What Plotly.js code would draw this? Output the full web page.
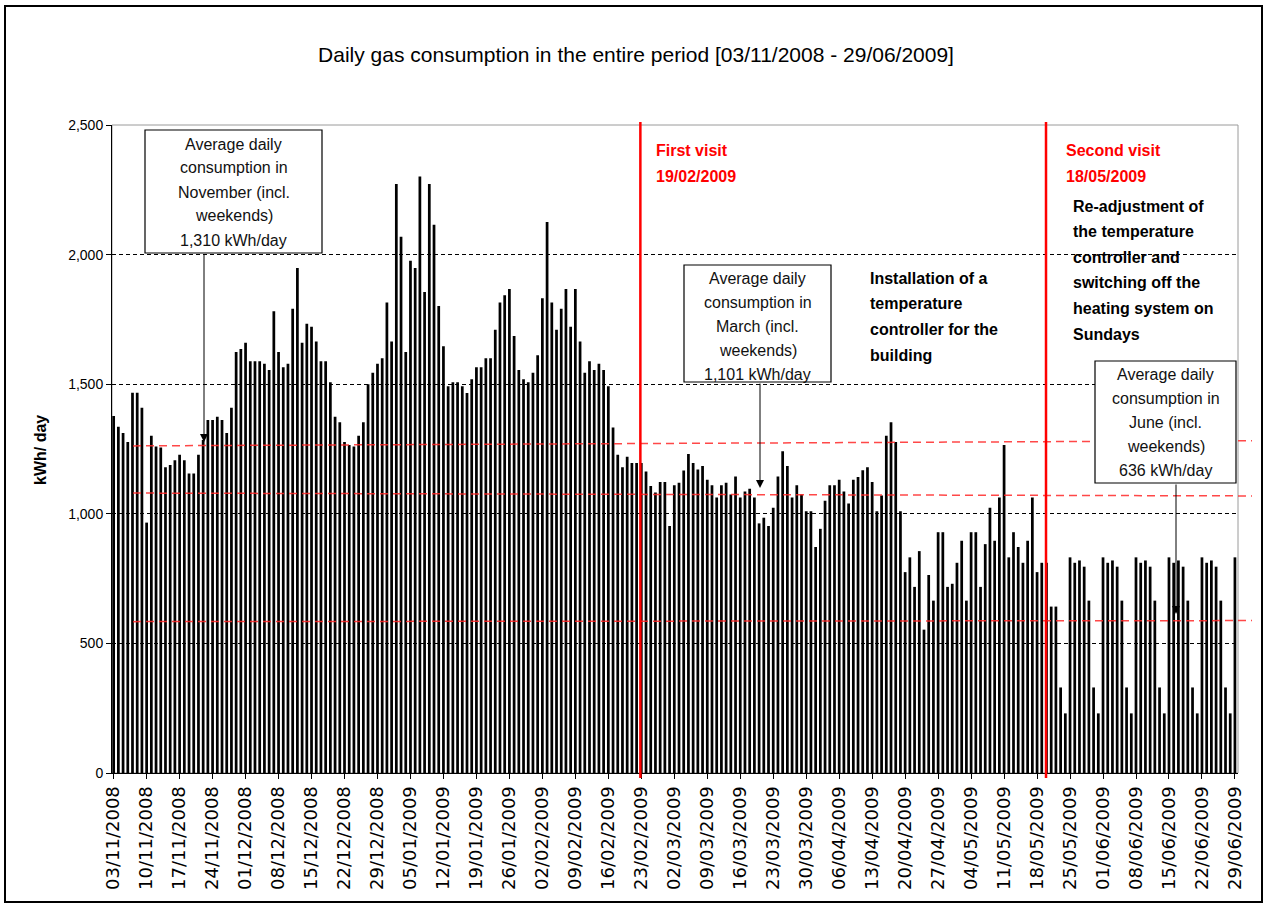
<!DOCTYPE html>
<html><head><meta charset="utf-8">
<script src="https://cdn.plot.ly/plotly-3.0.1.min.js"></script>
<style>html,body{margin:0;padding:0;background:#fff;}#chart{width:1267px;height:905px;}</style>
</head><body><div id="chart"></div>
<script>
// ---- DATA ----
const startDate = '03/11/2008';
const dayCount = 239;
const gasKWh = [
1377,1336,1312,1277,1467,1467,1409,966,1301,1260,
1256,1180,1188,1207,1228,1207,1155,1155,1228,1285,
1362,1362,1374,1362,1312,1409,1624,1636,1660,1589,
1589,1589,1579,1555,1781,1624,1565,1579,1791,1948,
1660,1733,1722,1665,1589,1589,1508,1374,1353,1277,
1265,1260,1301,1353,1500,1544,1579,1600,1815,1665,
2272,2069,1624,1976,1948,2301,1856,2272,2115,1802,
1646,1492,1508,1508,1492,1466,1519,1565,1565,1600,
1600,1710,1815,1843,1867,1686,1555,1519,1508,1544,
1612,1832,2126,1815,1710,1791,1867,1722,1867,1665,
1544,1589,1555,1579,1555,1492,1333,1228,1180,1220,
1196,1196,1196,1163,1107,1082,1123,1123,953,1110,
1120,1167,1231,1196,1171,1184,1131,1110,1063,1110,
1120,1074,1144,1063,1086,1097,1063,963,985,953,
1023,1144,1241,1184,1063,1110,1074,1010,1010,872,
942,1050,1110,1110,1131,1086,1040,1131,1142,1168,
1180,1123,1010,1071,1301,1353,1277,1010,775,832,
718,856,553,764,665,929,929,718,730,811,
896,665,929,929,718,883,1023,896,1063,1265,
832,929,872,811,896,1063,775,811,811,642,
642,330,230,832,811,820,796,665,330,230,
832,811,820,796,665,330,230,
832,811,820,796,665,330,230,
832,811,820,796,665,330,230,
832,811,820,796,665,330,230,
832
];
const tickLabels = ['03/11/2008','10/11/2008','17/11/2008','24/11/2008','01/12/2008','08/12/2008','15/12/2008','22/12/2008','29/12/2008','05/01/2009','12/01/2009','19/01/2009','26/01/2009','02/02/2009','09/02/2009','16/02/2009','23/02/2009','02/03/2009','09/03/2009','16/03/2009','23/03/2009','30/03/2009','06/04/2009','13/04/2009','20/04/2009','27/04/2009','04/05/2009','11/05/2009','18/05/2009','25/05/2009','01/06/2009','08/06/2009','15/06/2009','22/06/2009','29/06/2009'];
const yTicks = [0,500,1000,1500,2000,2500];
const visitDays = [111.8, 197.9];            // red vertical markers (day index)
const avgLineLeft = [1262, 1080, 584];       // red dashed reference lines, value at left end
const avgLineRight = [1282, 1069, 588];      // value at right end
const titleText = 'Daily gas consumption in the entire period [03/11/2008 - 29/06/2009]';
const novBox = ['Average daily','consumption in','November (incl.','weekends)','1,310 kWh/day'];
const marBox = ['Average daily','consumption in','March (incl.','weekends)','1,101 kWh/day'];
const junBox = ['Average daily','consumption in','June (incl.','weekends)','636 kWh/day'];
const visit1 = ['First visit','19/02/2009'];
const visit2 = ['Second visit','18/05/2009'];
const note1 = ['Installation of a','temperature','controller for the','building'];
const note2 = ['Re-adjustment of','the temperature','controller and','switching off the','heating system on','Sundays'];

// ---- BUILD ----
const dayIdx = gasKWh.map((v,i)=>i);
const tickVals = tickLabels.map((t,i)=>i*7);

const L=112,R=1238,T=125,B=773;
const px = x => (x-L)/(R-L);
const py = y => (B-y)/(B-T);
const FONT = 'Liberation Sans, Arial, sans-serif';

const annotations = [];
function addLines(lines, x, y0, step, size, color, anchor, bold){
  lines.forEach((t,i)=>annotations.push({xref:'paper',yref:'paper',x:px(x),y:py(y0+i*step),
    text: bold ? '<b>'+t+'</b>' : t, showarrow:false, xanchor:anchor, yanchor:'middle',
    font:{family:FONT,size:size,color:color}}));
}
function addArrow(x, yHead, yTail){
  annotations.push({xref:'paper',yref:'paper',x:px(x),y:py(yHead),ax:0,ay:yTail-yHead,text:'',
    showarrow:true,arrowhead:2,arrowsize:1.6,arrowwidth:1,arrowcolor:'#000',standoff:0});
}
addLines(novBox, 233.5, 144, 24, 16, '#111', 'center', false);
addLines(marBox, 757.5, 278, 24, 16, '#111', 'center', false);
addLines(junBox, 1165.5, 374, 24, 16, '#111', 'center', false);
addLines(visit1, 654, 151, 25, 16, '#ff0000', 'left', true);
addLines(visit2, 1064, 151, 25, 16, '#ff0000', 'left', true);
addLines(note1, 868, 278, 25.8, 16, '#000', 'left', true);
addLines(note2, 1071, 206, 25.6, 16, '#000', 'left', true);
addArrow(204, 442, 253);
addArrow(760, 488, 382);
addArrow(1176, 614, 483);
annotations.push({xref:'paper',yref:'paper',x:px(40),y:py(450),text:'<b>kWh/ day</b>',textangle:-90,
  showarrow:false,xanchor:'center',yanchor:'middle',font:{family:FONT,size:16,color:'#000'}});

const shapes = [];
// plot area border (grey)
shapes.push({type:'rect',xref:'paper',yref:'paper',x0:0,x1:1,y0:0,y1:1,line:{color:'#9a9a9a',width:1},layer:'below'});
// outer frame
shapes.push({type:'rect',xref:'paper',yref:'paper',x0:px(5),x1:px(1262),y0:py(902),y1:py(6),line:{color:'#000',width:2}});
// red dashed average lines
avgLineLeft.forEach((v,i)=>shapes.push({type:'line',xref:'paper',yref:'y',x0:px(133),x1:px(1252),y0:v,y1:avgLineRight[i],
  line:{color:'rgba(255,40,40,0.85)',width:1.5,dash:'8px,5px'}}));
// red visit lines
visitDays.forEach(d=>shapes.push({type:'line',xref:'x',yref:'paper',x0:d,x1:d,y0:py(778),y1:py(122),line:{color:'#ff0000',width:2.5}}));
// annotation boxes
[[145,322,130,253],[684,831,265,382],[1095,1236,361,483]].forEach(b=>shapes.push({type:'rect',xref:'paper',yref:'paper',
  x0:px(b[0]),x1:px(b[1]),y0:py(b[3]),y1:py(b[2]),fillcolor:'#fff',line:{color:'#000',width:1.2},layer:'above'}));

const trace = {type:'bar',x:dayIdx,y:gasKWh,marker:{color:'#000',line:{width:0}},hoverinfo:'skip',name:'Daily gas consumption'};

const layout = {
  width:1267,height:905,autosize:false,
  margin:{l:L,r:1267-R,t:T,b:905-B,pad:0},
  paper_bgcolor:'#fff',plot_bgcolor:'#fff',
  showlegend:false,bargap:0.42,
  title:{text:titleText,xref:'container',x:0.502,yref:'container',y:1-55/905,yanchor:'middle',xanchor:'center',
    font:{family:FONT,size:21,color:'#000'}},
  xaxis:{range:[-0.35,dayCount-0.35],tickmode:'array',tickvals:tickVals,ticktext:tickLabels,tickangle:-90,
    ticks:'outside',ticklen:5,tickcolor:'#000',showgrid:false,zeroline:false,showline:true,linecolor:'#000',linewidth:1,
    tickfont:{family:'DejaVu Sans, sans-serif',size:18,color:'#000'}},
  yaxis:{range:[0,2500],tickmode:'array',tickvals:yTicks,tickformat:',d',ticks:'outside',ticklen:5,tickcolor:'#000',
    showgrid:true,gridcolor:'#000',gridwidth:1,griddash:'4px,3px',zeroline:false,showline:true,linecolor:'#000',linewidth:1,
    tickfont:{family:'Liberation Sans, sans-serif',size:14,color:'#000'}},
  shapes:shapes,annotations:annotations
};
Plotly.newPlot('chart',[trace],layout,{displayModeBar:false,staticPlot:true});
</script></body></html>
